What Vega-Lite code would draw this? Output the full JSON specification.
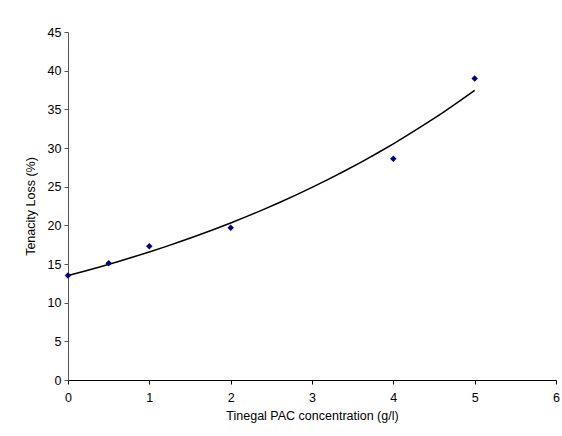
{
  "$schema": "https://vega.github.io/schema/vega-lite/v6.json",
  "width": 488,
  "height": 348,
  "autosize": {"type": "none"},
  "padding": {"left": 68, "top": 32, "right": 6, "bottom": 56},
  "background": "white",
  "config": {
    "view": {"stroke": null},
    "font": "Liberation Sans",
    "axis": {
      "grid": false,
      "labelFont": "Liberation Sans",
      "titleFont": "Liberation Sans",
      "labelFontSize": 12.5,
      "titleFontSize": 12.5,
      "titleFontWeight": "normal",
      "labelColor": "#000",
      "titleColor": "#000",
      "tickSize": 4,
      "labelPadding": 3,
      "labelFlush": false
    }
  },
  "data": {
    "values": [
      {"c": 0, "loss": 13.5},
      {"c": 0.5, "loss": 15.1},
      {"c": 1, "loss": 17.3},
      {"c": 2, "loss": 19.7},
      {"c": 4, "loss": 28.6},
      {"c": 5, "loss": 39.0}
    ]
  },
  "encoding": {
    "x": {
      "field": "c", "type": "quantitative",
      "scale": {"domain": [0, 6], "nice": false},
      "axis": {"title": "Tinegal PAC concentration (g/l)", "values": [0,1,2,3,4,5,6], "format": "d", "domainColor": "#000", "tickColor": "#000", "labelPadding": 7, "titlePadding": 6}
    },
    "y": {
      "field": "loss", "type": "quantitative",
      "scale": {"domain": [0, 45], "nice": false},
      "axis": {"title": "Tenacity Loss (%)", "values": [0,5,10,15,20,25,30,35,40,45], "format": "d", "domainColor": "#555", "tickColor": "#555", "titlePadding": 10}
    }
  },
  "layer": [
    {
      "transform": [{"regression": "loss", "on": "c", "method": "exp", "extent": [0, 5]}],
      "mark": {"type": "line", "color": "#000", "strokeWidth": 1.5}
    },
    {
      "mark": {"type": "point", "shape": "diamond", "filled": true, "color": "#000080", "size": 42, "opacity": 1}
    }
  ]
}
